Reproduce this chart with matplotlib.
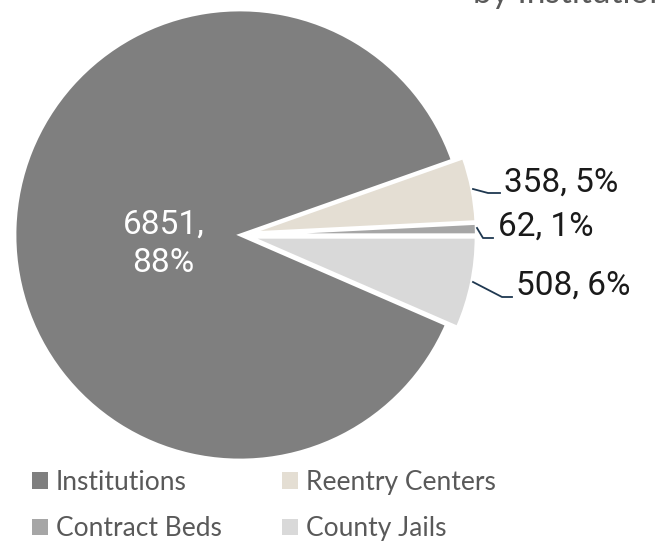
import matplotlib

matplotlib.use("Agg")
import matplotlib.pyplot as plt

categories = ["Institutions", "Reentry Centers", "Contract Beds", "County Jails"]
counts = [6851, 358, 62, 508]
percents = [88, 5, 1, 6]
colors = ["#7f7f7f", "#e4ded3", "#a6a6a6", "#d9d9d9"]
title_text = "by Institution Type"

W, H = 656, 551
fig = plt.figure(figsize=(W / 100, H / 100), dpi=100)
fig.patch.set_facecolor("white")

# pie axes: centre at (240, 235) px, radius 225 px
cx, cy, r = 240, 235, 225
ax = fig.add_axes([(cx - r) / W, 1 - (cy + r) / H, 2 * r / W, 2 * r / H])

total = sum(counts)
start = -360 * counts[3] / total
wedges, _ = ax.pie(
    counts,
    colors=colors,
    startangle=start,
    counterclock=False,
    explode=[0, 0.05, 0.05, 0.05],
    radius=1,
    wedgeprops=dict(edgecolor="white", linewidth=2),
)
for w in wedges:
    w.set_clip_on(False)
ax.set_xlim(-1, 1)
ax.set_ylim(-1, 1)
ax.set_aspect("equal")
ax.axis("off")

# inside label for the big slice
ax.text(-0.34, -0.04, f"{counts[0]},\n{percents[0]}%", color="white",
        fontsize=24, family="Roboto", ha="center", va="center",
        linespacing=1.25)


def px(x, y):
    return ((x - cx) / r, (cy - y) / r)


# outside labels: (line start, elbow, end, text left/center) in pixels
leaders = {
    1: [(473, 189), (488, 193), (500, 193), (504, 183)],
    2: [(477, 228), (483, 238), (493, 238), (498, 227)],
    3: [(473, 282), (502, 297), (512, 297), (516, 286)],
}
for i, pts in leaders.items():
    xs, ys = zip(*[px(*p) for p in pts[:3]])
    ax.plot(xs, ys, color="#1f3850", lw=1.3, clip_on=False)
    tx, ty = px(*pts[3])
    ax.text(tx, ty, f"{counts[i]}, {percents[i]}%", fontsize=24,
            family="Roboto", color="#1a1a1a", ha="left", va="center")

fig.text(473 / W, 1 - 3 / H, title_text, fontsize=24, family="Lato",
         color="#595959", ha="left", va="baseline")

order = [0, 2, 1, 3]
leg = fig.legend(
    [wedges[i] for i in order],
    [categories[i] for i in order],
    ncol=2,
    loc="upper left",
    bbox_to_anchor=(8 / W, 1 - 446 / H),
    frameon=False,
    prop={"family": "Lato", "size": 19},
    handlelength=0.6,
    handleheight=0.6,
    handletextpad=0.3,
    columnspacing=2.3,
    labelspacing=0.82,
)
for t in leg.get_texts():
    t.set_color("#595959")
for h in leg.legend_handles:
    h.set_edgecolor("none")

fig.savefig("out.png", dpi=100)
